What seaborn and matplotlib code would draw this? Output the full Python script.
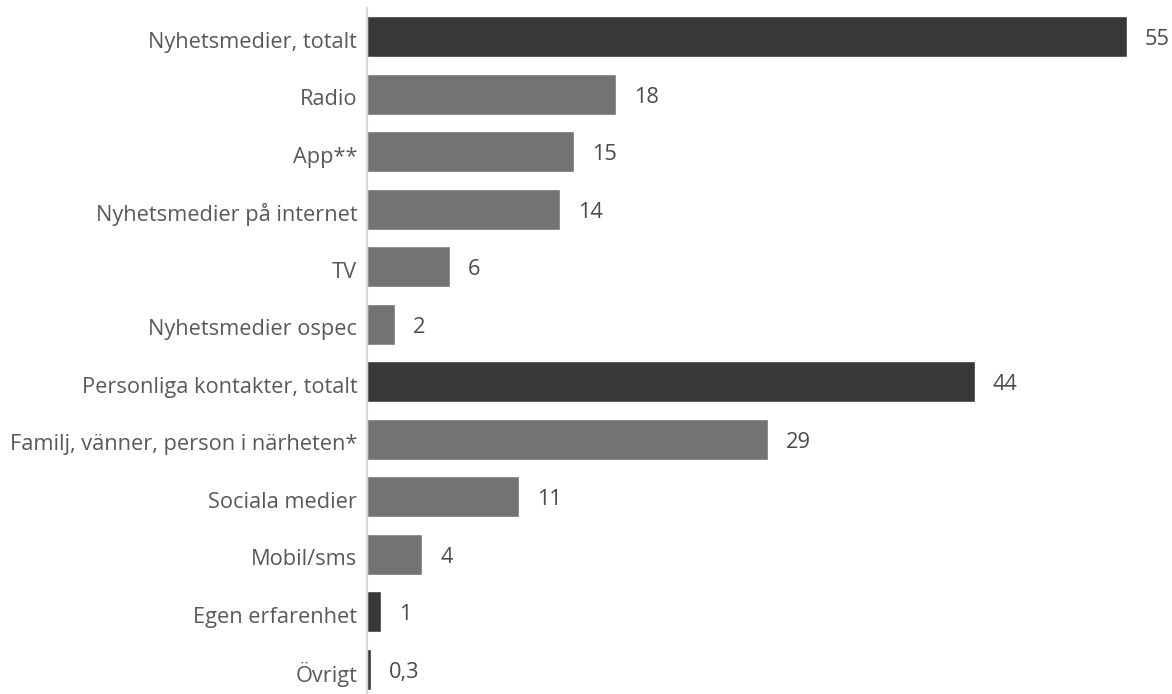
import matplotlib
matplotlib.use("Agg")
import matplotlib.pyplot as plt
import matplotlib.transforms as mtransforms
import seaborn as sns
import pandas as pd

categories = ["Nyhetsmedier, totalt", "Radio", "App**", "Nyhetsmedier på internet", "TV",
              "Nyhetsmedier ospec", "Personliga kontakter, totalt",
              "Familj, vänner, person i närheten*", "Sociala medier", "Mobil/sms",
              "Egen erfarenhet", "Övrigt"]
values = [55, 18, 15, 14, 6, 2, 44, 29, 11, 4, 1, 0.3]
value_labels = ["55", "18", "15", "14", "6", "2", "44", "29", "11", "4", "1", "0,3"]
is_total = [True, False, False, False, False, False, True, False, False, False, True, True]

DARK = "#383838"
GRAY = "#737373"

sns.set_theme(style="white")
plt.rcParams["font.family"] = ["Open Sans", "DejaVu Sans"]

df = pd.DataFrame({"cat": categories, "val": values})
palette = {c: (DARK if t else GRAY) for c, t in zip(categories, is_total)}

fig = plt.figure(figsize=(11.72, 6.94), dpi=100)
ax = fig.add_axes([367/1172, 1 - 698/694, 801/1172, 690/694])
sns.barplot(data=df, y="cat", x="val", hue="cat", palette=palette, order=categories,
            orient="h", width=0.71, legend=False, ax=ax, saturation=1)

shift = mtransforms.ScaledTranslation(0, -3/100, fig.dpi_scale_trans)

for cont, lab in zip(ax.containers, value_labels):
    txts = ax.bar_label(cont, labels=[lab], padding=13, fontsize=15.7, color="#4a4a4a")
    for t in txts:
        x0, y0 = t.xyann
        t.xyann = (x0, y0 - 2.2)

ax.set_xlim(0, 58)
ax.set_ylim(len(categories) - 0.5, -0.5)
ax.set_xlabel("")
ax.set_ylabel("")
ax.set_xticks([])
ax.tick_params(axis="y", length=0, pad=7, labelsize=15.7, labelcolor="#595959")
for t in ax.get_yticklabels():
    t.set_transform(t.get_transform() + shift)
for s in ["top", "right", "bottom"]:
    ax.spines[s].set_visible(False)
ax.spines["left"].set_color("#d9d9d9")
ax.spines["left"].set_linewidth(1.5)

fig.savefig("out.png", dpi=100)
